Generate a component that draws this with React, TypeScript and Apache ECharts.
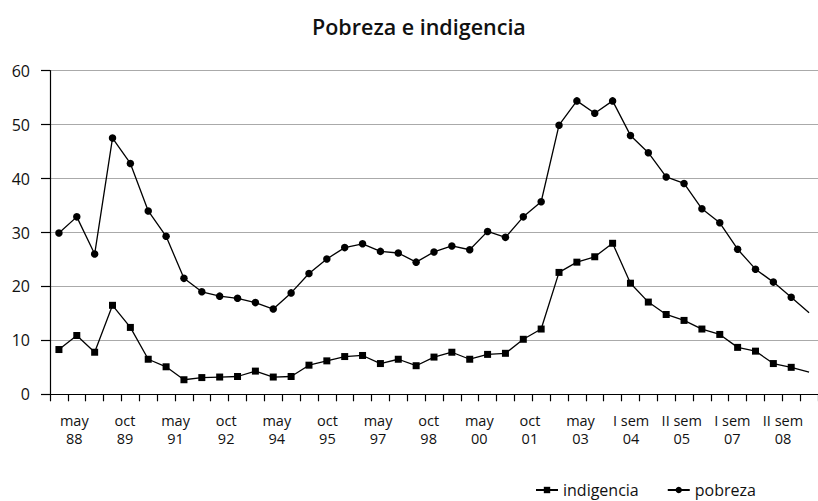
import React, { useEffect, useRef } from "react";
import * as echarts from "echarts";

const periods = [
  "may 88", "oct 88", "may 89", "oct 89", "may 90", "oct 90", "may 91", "oct 91",
  "may 92", "oct 92", "may 93", "oct 93", "may 94", "oct 94", "may 95", "oct 95",
  "may 96", "oct 96", "may 97", "oct 97", "may 98", "oct 98", "may 99", "oct 99",
  "may 00", "oct 00", "may 01", "oct 01", "may 02", "oct 02", "may 03",
  "II sem 03", "I sem 04", "II sem 04", "I sem 05", "II sem 05", "I sem 06",
  "II sem 06", "I sem 07", "II sem 07", "I sem 08", "II sem 08", "I sem 09",
];

const pobreza = [
  29.9, 32.9, 26.0, 47.5, 42.8, 34.0, 29.3, 21.5, 19.0, 18.2, 17.8, 17.0, 15.8,
  18.8, 22.4, 25.1, 27.2, 27.9, 26.5, 26.2, 24.5, 26.4, 27.5, 26.8, 30.2, 29.1,
  32.9, 35.7, 49.9, 54.4, 52.1, 54.4, 48.0, 44.8, 40.3, 39.1, 34.4, 31.8, 26.9,
  23.2, 20.8, 18.0, 15.1,
];

const indigencia = [
  8.3, 10.9, 7.8, 16.5, 12.4, 6.5, 5.1, 2.7, 3.1, 3.2, 3.3, 4.3, 3.2, 3.3, 5.4,
  6.2, 7.0, 7.2, 5.7, 6.5, 5.3, 6.9, 7.8, 6.5, 7.4, 7.6, 10.2, 12.1, 22.6, 24.5,
  25.5, 28.0, 20.6, 17.1, 14.8, 13.7, 12.1, 11.1, 8.7, 8.0, 5.7, 5.0, 4.1,
];

const tickLabels = [
  "may\n88", "oct\n89", "may\n91", "oct\n92", "may\n94", "oct\n95", "may\n97",
  "oct\n98", "may\n00", "oct\n01", "may\n03", "I sem\n04", "II sem\n05",
  "I sem\n07", "II sem\n08",
];

const FONT = "Open Sans";

function withLastHidden(arr: number[]) {
  return arr.map((v, i) =>
    i === arr.length - 1 ? { value: v, symbol: "none" } : v
  );
}

export default function App() {
  const ref = useRef<HTMLDivElement>(null);
  useEffect(() => {
    document.body.style.margin = "0";
    if (!ref.current) return;
    const chart = echarts.init(ref.current, undefined, { renderer: "svg" });
    chart.setOption({
      animation: false,
      backgroundColor: "#ffffff",
      textStyle: { fontFamily: FONT, color: "#000" },
      title: {
        text: "Pobreza e indigencia",
        left: 307,
        top: 10,
        textStyle: { fontFamily: FONT, fontSize: 21.5, fontWeight: 600, color: "#111" },
      },
      legend: {
        left: 530,
        top: 477,
        itemWidth: 22,
        itemHeight: 8,
        itemGap: 28,
        textStyle: { fontFamily: FONT, fontSize: 16, lineHeight: 16, color: "#111" },
        data: ["indigencia", "pobreza"],
      },
      grid: [
        { left: 50, right: -7.3, top: 70.7, bottom: 106.7 },
        { left: 49, right: 9.7, top: 70.7, bottom: 106.7 },
      ],
      xAxis: [
        {
          type: "category",
          gridIndex: 0,
          data: periods,
          boundaryGap: true,
          axisLine: { show: true, lineStyle: { color: "#000", width: 1.2 } },
          axisTick: { show: true, interval: 0, length: 7, lineStyle: { color: "#000", width: 1.2 } },
          axisLabel: { show: false },
          splitLine: { show: false },
        },
        {
          type: "category",
          gridIndex: 1,
          data: tickLabels,
          boundaryGap: true,
          axisLine: { show: false },
          axisTick: { show: false },
          axisLabel: {
            interval: 0,
            margin: 17,
            fontFamily: FONT,
            fontSize: 14.5,
            lineHeight: 18,
            color: "#111",
          },
          splitLine: { show: false },
        },
      ],
      yAxis: [
        {
          type: "value",
          gridIndex: 0,
          min: 0,
          max: 60,
          interval: 10,
          axisLine: { show: true, lineStyle: { color: "#000", width: 1.2 } },
          axisTick: { show: true, length: 9, lineStyle: { color: "#000", width: 1.2 } },
          axisLabel: {
            margin: 20,
            fontFamily: FONT,
            fontSize: 16,
            color: "#111",
            verticalAlign: "middle",
            padding: [0, 0, 6, 0],
          },
          splitLine: { show: true, lineStyle: { color: "#aaaaaa", width: 1.2 } },
        },
        { type: "value", gridIndex: 1, show: false, min: 0, max: 60 },
      ],
      series: [
        {
          name: "indigencia",
          type: "line",
          xAxisIndex: 0,
          yAxisIndex: 0,
          data: withLastHidden(indigencia),
          symbol: "rect",
          symbolSize: 7,
          itemStyle: { color: "#000" },
          lineStyle: { color: "#000", width: 1.3 },
        },
        {
          name: "pobreza",
          type: "line",
          xAxisIndex: 0,
          yAxisIndex: 0,
          data: withLastHidden(pobreza),
          symbol: "circle",
          symbolSize: 7.5,
          itemStyle: { color: "#000" },
          lineStyle: { color: "#000", width: 1.3 },
        },
      ],
    });
    return () => chart.dispose();
  }, []);
  return <div ref={ref} style={{ width: 818, height: 501 }} />;
}
